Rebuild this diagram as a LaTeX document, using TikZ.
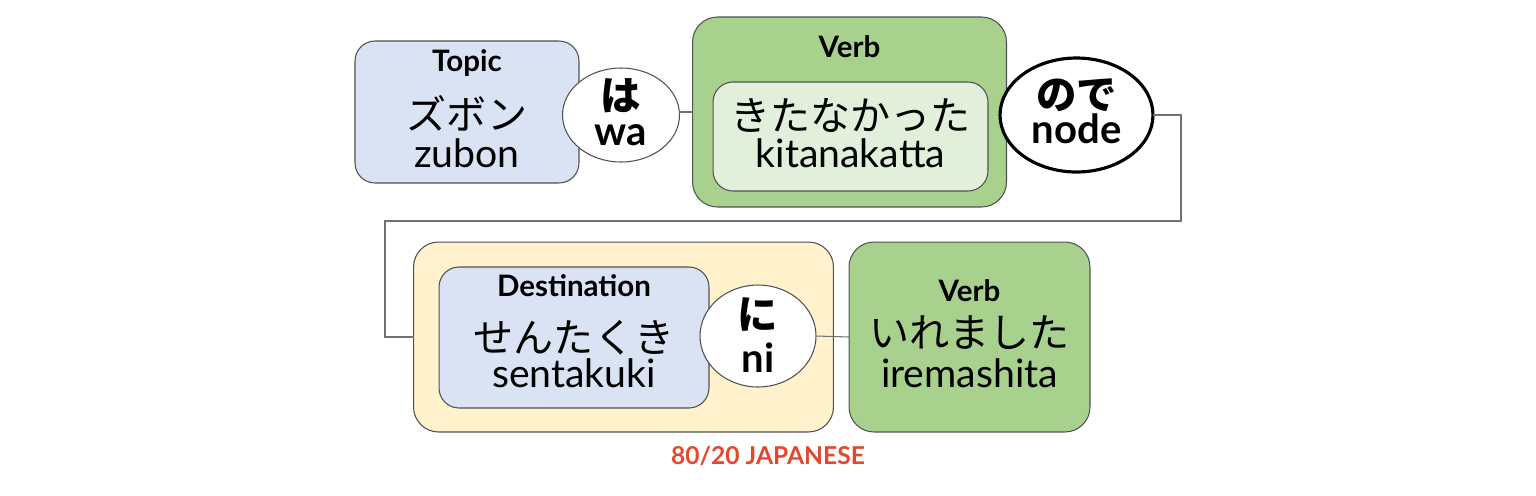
\documentclass[tikz,border=0pt]{standalone}
\usepackage{fontspec}
\setmainfont{Lato}
\newfontfamily\jp{Noto Sans CJK JP}
\usetikzlibrary{shapes.geometric}
\definecolor{topicblue}{HTML}{DAE3F3}
\definecolor{verbgreen}{HTML}{A9D18E}
\definecolor{palegreen}{HTML}{E2EFDA}
\definecolor{destyellow}{HTML}{FFF2CC}
\definecolor{boxgray}{HTML}{505050}
\definecolor{linegray}{HTML}{707070}
\definecolor{logored}{HTML}{E4472D}

\begin{document}
\begin{tikzpicture}[x=0.02cm,y=-0.02cm,
	box/.style={draw=boxgray,rounded corners=0.4cm,line width=0.6pt,inner sep=0,outer sep=0},
	particle/.style={draw=boxgray,ellipse,fill=white,inner sep=0,outer sep=0,line width=0.6pt},
	head/.style={font=\fontsize{16.8}{19}\selectfont\bfseries,anchor=base},
	kana/.style={font=\jp\fontsize{22.8}{26}\selectfont},
	romaji/.style={font=\fontsize{22.3}{26}\selectfont,anchor=base},
	pkana/.style={font=\jp\bfseries\fontsize{23}{27}\selectfont,inner sep=0},
	promaji/.style={font=\fontsize{22.8}{26}\selectfont\bfseries,anchor=base,inner sep=0},
	link/.style={draw=linegray,line width=0.6pt}]
	\useasboundingbox (0,0) rectangle (1536,495);
	% top row
	\node[box,fill=topicblue,minimum width=4.48cm,minimum height=2.84cm] (topic) at (467,112) {};
	\node[head] (topiclbl) at (467,71) {Topic};
	\node[kana] (zubonjp) at (467,113) {ズボン};
	\node[romaji] (zubon) at (467,167) {zubon};
	\node[box,fill=verbgreen,rounded corners=0.5cm,minimum width=6.28cm,minimum height=3.8cm] (verb1) at (849.5,112) {};
	\node[head] (verb1lbl) at (849.5,57) {Verb};
	\node[box,fill=palegreen,minimum width=5.5cm,minimum height=2.18cm] (adj) at (850.5,136.5) {};
	\node[kana] (kitajp) at (850.5,115) {きたなかった};
	\node[romaji] (kita) at (850.5,167) {kitanakatta};
	\node[particle,minimum width=2.34cm,minimum height=1.88cm] (wa) at (621,115) {};
	\node[pkana] (wajp) at (621,96) {は};
	\node[promaji] (warom) at (621,145) {wa};
	\node[particle,draw=black,line width=1.8pt,minimum width=3.06cm,minimum height=2.28cm] (node) at (1076.5,115) {};
	\node[pkana] (nodejp) at (1076.5,95) {ので};
	\node[promaji] (noderom) at (1076.5,143) {node};
	% bottom row
	\node[box,fill=destyellow,rounded corners=0.5cm,minimum width=8.4cm,minimum height=3.8cm] (dest) at (623.5,337) {};
	\node[box,fill=topicblue,minimum width=5.4cm,minimum height=2.82cm] (place) at (574,337.5) {};
	\node[head] (placelbl) at (574,296) {Destination};
	\node[kana] (sentjp) at (574,338) {せんたくき};
	\node[romaji] (sent) at (574,387) {sentakuki};
	\node[particle,minimum width=2.32cm,minimum height=2.04cm] (ni) at (758,336) {};
	\node[pkana] (nijp) at (758,315) {に};
	\node[promaji] (nirom) at (758,372) {ni};
	\node[box,fill=verbgreen,rounded corners=0.5cm,minimum width=4.82cm,minimum height=3.8cm] (verb2) at (969.5,337) {};
	\node[head] (verb2lbl) at (969.5,301) {Verb};
	\node[kana] (irejp) at (969.5,333) {いれました};
	\node[romaji] (ire) at (969.5,387) {iremashita};
	\node[font=\fontsize{14}{16}\selectfont\bfseries,text=logored] (logo) at (768,456) {80/20 JAPANESE};
	% connectors
	\coordinate (turnR) at (1181,221);
	\coordinate (turnL) at (385,221);
	\draw[link] (verb1.west) -- (verb1.west -| wa.east);
	\draw[link] (node.east) -| (turnR) -- (turnL) |- (dest.west);
	\draw[link] (ni.east) -- (verb2.west);
\end{tikzpicture}
\end{document}
